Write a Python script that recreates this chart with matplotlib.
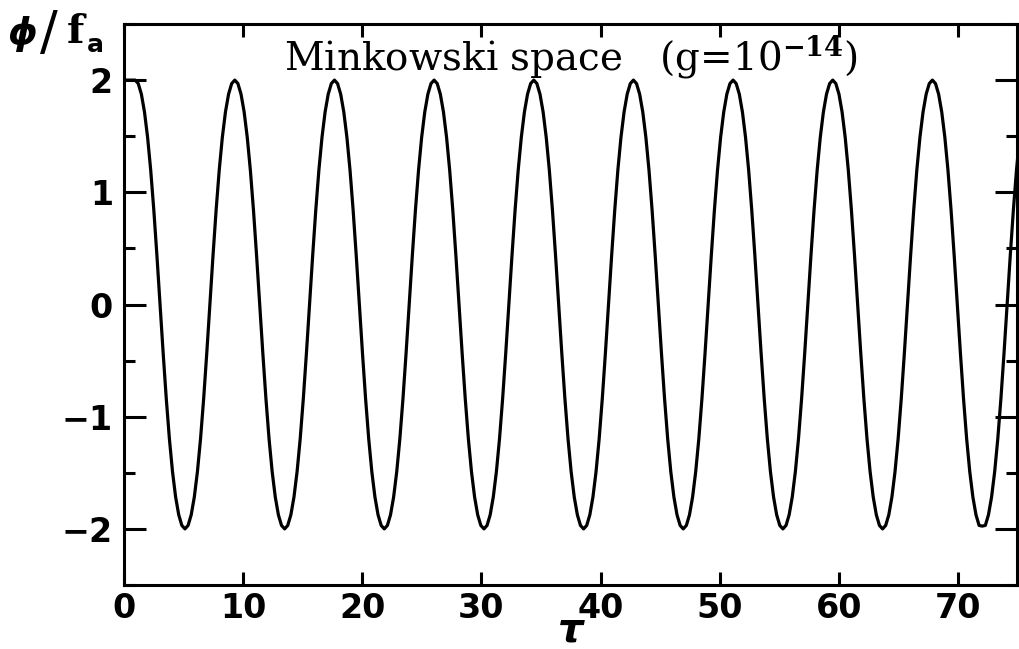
import numpy as np
import matplotlib
matplotlib.use("Agg")
import matplotlib.pyplot as plt
from matplotlib.ticker import MultipleLocator

# ---- data ----
x_ticks = [0, 10, 20, 30, 40, 50, 60, 70]
y_ticks = [-2, -1, 0, 1, 2]
title_text = "Minkowski space   (g=10$^{\\mathbf{-14}}$)"

phi_initial = 2.0          # field held at phi/f_a = 2 from tau = 0
tau_start = 0.935          # start of the oscillation
tau_step = 0.26141         # sampling step of the curve

phi_values = [
    2.000, 1.969, 1.875, 1.716, 1.490, 1.197, 0.840, 0.434, 0.000, -0.434, -0.840, -1.197, -1.490, -1.716, -1.875, -1.969,
    -2.000, -1.969, -1.875, -1.716, -1.490, -1.197, -0.840, -0.434, 0.000, 0.434, 0.840, 1.197, 1.490, 1.716, 1.875, 1.969,
    2.000, 1.969, 1.875, 1.716, 1.490, 1.197, 0.840, 0.434, 0.000, -0.434, -0.840, -1.197, -1.490, -1.716, -1.875, -1.969,
    -2.000, -1.969, -1.875, -1.716, -1.490, -1.197, -0.840, -0.434, 0.000, 0.434, 0.840, 1.197, 1.490, 1.716, 1.875, 1.969,
    2.000, 1.969, 1.875, 1.716, 1.490, 1.197, 0.840, 0.434, 0.000, -0.434, -0.840, -1.197, -1.490, -1.716, -1.875, -1.969,
    -2.000, -1.969, -1.875, -1.716, -1.490, -1.197, -0.840, -0.434, 0.000, 0.434, 0.840, 1.197, 1.490, 1.716, 1.875, 1.969,
    2.000, 1.969, 1.875, 1.716, 1.490, 1.197, 0.840, 0.434, 0.000, -0.434, -0.840, -1.197, -1.490, -1.716, -1.875, -1.969,
    -2.000, -1.969, -1.875, -1.716, -1.490, -1.197, -0.840, -0.434, 0.000, 0.434, 0.840, 1.197, 1.490, 1.716, 1.875, 1.969,
    2.000, 1.969, 1.875, 1.716, 1.490, 1.197, 0.840, 0.434, 0.000, -0.434, -0.840, -1.197, -1.490, -1.716, -1.875, -1.969,
    -2.000, -1.969, -1.875, -1.716, -1.490, -1.197, -0.840, -0.434, 0.000, 0.434, 0.840, 1.197, 1.490, 1.716, 1.875, 1.969,
    2.000, 1.969, 1.875, 1.716, 1.490, 1.197, 0.840, 0.434, 0.000, -0.434, -0.840, -1.197, -1.490, -1.716, -1.875, -1.969,
    -2.000, -1.969, -1.875, -1.716, -1.490, -1.197, -0.840, -0.434, 0.000, 0.434, 0.840, 1.197, 1.490, 1.716, 1.875, 1.969,
    2.000, 1.969, 1.875, 1.716, 1.490, 1.197, 0.840, 0.434, 0.000, -0.434, -0.840, -1.197, -1.490, -1.716, -1.875, -1.969,
    -2.000, -1.969, -1.875, -1.716, -1.490, -1.197, -0.840, -0.434, 0.000, 0.434, 0.840, 1.197, 1.490, 1.716, 1.875, 1.969,
    2.000, 1.969, 1.875, 1.716, 1.490, 1.197, 0.840, 0.434, 0.000, -0.434, -0.840, -1.197, -1.490, -1.716, -1.875, -1.969,
    -2.000, -1.969, -1.875, -1.716, -1.490, -1.197, -0.840, -0.434, 0.000, 0.434, 0.840, 1.197, 1.490, 1.716, 1.875, 1.969,
    2.000, 1.969, 1.875, 1.716, 1.490, 1.197, 0.840, 0.434, 0.000, -0.434, -0.840, -1.197, -1.490, -1.716, -1.875, -1.969,
    -1.975, -1.969, -1.875, -1.716, -1.490, -1.197, -0.840, -0.434, 0.000, 0.434, 0.840, 1.197, 1.490,
]

tau = np.concatenate([[0.0], tau_start + tau_step * np.arange(len(phi_values))])
phi = np.concatenate([[phi_initial], np.array(phi_values)])

# ---- figure ----
plt.rcParams['font.family'] = ['DejaVu Sans']
plt.rcParams['mathtext.fontset'] = 'dejavuserif'

W, H = 1020, 649
fig = plt.figure(figsize=(W / 100, H / 100), dpi=100)
ax = fig.add_axes([124 / W, 1 - 585 / H, (1017.5 - 124) / W, (585 - 24) / H])

ax.plot(tau, phi, color='black', lw=2.3, solid_joinstyle='round')

ax.set_xlim(0, 75)
ax.set_ylim(-2.5, 2.5)
ax.set_xticks(x_ticks)
ax.set_yticks(y_ticks)
ax.yaxis.set_minor_locator(MultipleLocator(0.5))

for s in ax.spines.values():
    s.set_linewidth(2.2)

ax.tick_params(axis='x', which='major', direction='in', length=9.5, width=2.2,
               top=True, labelsize=24, pad=5)
ax.tick_params(axis='y', which='major', direction='in', length=16, width=2.2,
               right=True, labelsize=24, pad=8)
ax.tick_params(axis='y', which='minor', direction='in', length=8, width=2.2,
               right=True)
for lab in ax.get_xticklabels() + ax.get_yticklabels():
    lab.set_fontweight('bold')

# x label (tau), centred under the axes
fig.text(571 / W, 1 - 641 / H, 'τ', fontsize=29, fontweight='bold',
         fontstyle='italic', ha='center', va='baseline')

# y label phi / f_a at the top-left corner
fig.text(8 / W, 1 - 44 / H, 'ϕ', fontsize=27, fontweight='bold',
         fontstyle='italic', ha='left', va='baseline')
fig.text(40 / W, 1 - 49 / H, '/', fontsize=38, fontweight='normal',
         ha='left', va='baseline')
fig.text(67 / W, 1 - 43 / H, 'f', fontsize=29, fontweight='bold',
         family='DejaVu Serif', ha='left', va='baseline')
fig.text(87 / W, 1 - 52 / H, 'a', fontsize=18, fontweight='bold',
         family='DejaVu Sans', ha='left', va='baseline')

# title inside the axes
ax.text(0.5, (585 - 70) / 561, title_text, transform=ax.transAxes,
        ha='center', va='baseline', fontsize=28, family='DejaVu Serif')

fig.savefig('out.png', dpi=100)
